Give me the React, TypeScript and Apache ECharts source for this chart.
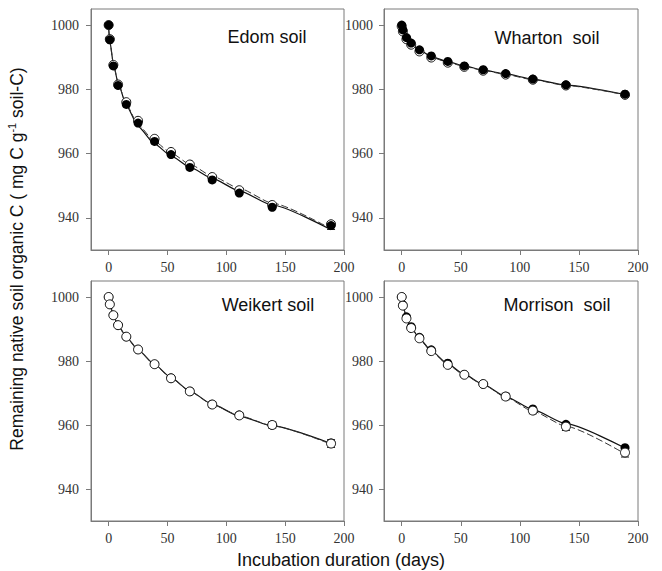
import React, { useEffect, useRef } from "react";
import * as echarts from "echarts";

// Sampling days (incubation duration)
const days = [0, 1, 4, 8, 15, 25, 39, 53, 69, 88, 111, 139, 189];

// Panel names
const panelNames = ["Edom soil", "Wharton  soil", "Weikert soil", "Morrison  soil"];

// Edom
const edomFilled = [1000, 995.4, 987.3, 981.2, 975.3, 969.5, 963.8, 959.7, 955.7, 951.8, 947.7, 943.3, 937.6];
const edomOpen = [1000, 995.6, 987.6, 981.5, 976.0, 970.2, 964.6, 960.5, 956.6, 952.7, 948.6, 944.0, 938.0];
const edomFitSolid = [999, 995.0, 988.0, 982.0, 975.0, 968.5, 963.0, 959.3, 955.8, 952.3, 948.4, 944.0, 936.3];
const edomFitDashed = [999, 995.0, 988.0, 982.0, 975.3, 969.0, 963.8, 960.2, 956.7, 953.0, 949.2, 944.6, 936.6];

// Wharton
const whartonFilled = [1000, 998.5, 996.1, 994.4, 992.3, 990.4, 988.7, 987.3, 986.1, 984.9, 983.2, 981.4, 978.5];
const whartonOpen = [999.6, 998.0, 995.6, 993.9, 991.8, 989.9, 988.3, 987.0, 985.8, 984.6, 983.0, 981.2, 978.3];
const whartonFitSolid = [999.8, 998.3, 996.0, 994.3, 992.2, 990.2, 988.6, 987.3, 986.0, 984.8, 983.2, 981.3, 978.4];
const whartonFitDashed = [999.8, 998.2, 995.8, 994.0, 991.9, 990.0, 988.4, 987.1, 985.9, 984.6, 983.0, 981.2, 978.3];

// Weikert
const weikertFilled = [1000, 997.7, 994.3, 991.2, 987.6, 983.6, 979.0, 974.7, 970.5, 966.5, 963.1, 960.0, 954.4];
const weikertOpen = [1000, 997.7, 994.3, 991.2, 987.6, 983.6, 979.0, 974.6, 970.5, 966.4, 963.0, 960.0, 954.2];
const weikertFitSolid = [999.6, 997.8, 994.3, 991.2, 987.5, 983.5, 978.9, 974.8, 970.6, 966.5, 962.8, 959.7, 954.2];
const weikertFitDashed = [999.6, 997.7, 994.2, 991.1, 987.4, 983.4, 978.8, 974.7, 970.5, 966.4, 962.9, 959.8, 954.0];

// Morrison
const morrisonFilled = [1000, 997.5, 993.8, 990.7, 987.4, 983.5, 979.3, 975.8, 972.8, 969.0, 965.0, 960.2, 952.9];
const morrisonOpen = [1000, 997.3, 993.3, 990.3, 987.1, 983.1, 978.8, 975.7, 972.8, 968.9, 964.5, 959.5, 951.4];
const morrisonFitSolid = [999.3, 997.3, 993.6, 990.5, 987.0, 983.2, 979.1, 975.8, 972.7, 968.9, 964.8, 960.4, 952.8];
const morrisonFitDashed = [999.3, 997.3, 993.5, 990.4, 986.8, 983.0, 978.8, 975.6, 972.6, 968.7, 964.3, 959.6, 951.0];

// Error bars: [day, value, half-width]
const edomErr = [[189, 937.6, 1.2]];
const whartonErr: number[][] = [];
const weikertErr = [[53, 974.6, 0.8], [69, 970.5, 0.8], [88, 966.4, 0.9], [111, 963.0, 0.8], [139, 960.0, 1.0], [189, 954.2, 1.2]];
const morrisonErr = [[88, 968.9, 1.0], [111, 964.5, 1.0], [139, 959.5, 1.2], [189, 951.4, 1.4]];

const xTicks = [0, 50, 100, 150, 200];
const yTicks = [940, 960, 980, 1000];

const panels = [
  { filled: edomFilled, open: edomOpen, solid: edomFitSolid, dashed: edomFitDashed, err: edomErr, openOnTop: false },
  { filled: whartonFilled, open: whartonOpen, solid: whartonFitSolid, dashed: whartonFitDashed, err: whartonErr, openOnTop: false },
  { filled: weikertFilled, open: weikertOpen, solid: weikertFitSolid, dashed: weikertFitDashed, err: weikertErr, openOnTop: true },
  { filled: morrisonFilled, open: morrisonOpen, solid: morrisonFitSolid, dashed: morrisonFitDashed, err: morrisonErr, openOnTop: true },
];

const grids = [
  { left: 91, top: 9, width: 253, height: 241 },
  { left: 384, top: 9, width: 254, height: 241 },
  { left: 91, top: 281, width: 253, height: 240 },
  { left: 384, top: 281, width: 254, height: 240 },
];

const titlePos = [
  [267, 37],
  [547, 38],
  [268, 305],
  [557, 305],
];

const AXIS_COLOR = "#7a7a7a";
const LABEL_FONT = "'Liberation Serif', 'Times New Roman', serif";

export default function App() {
  const ref = useRef<HTMLDivElement>(null);

  useEffect(() => {
    if (!ref.current) return;
    const chart = echarts.init(ref.current, undefined, { renderer: "svg" });

    const xAxis = grids.map((_, i) => ({
      type: "value",
      gridIndex: i,
      min: -15,
      max: 200,
      splitLine: { show: false },
      axisLine: { show: true, onZero: false, lineStyle: { color: AXIS_COLOR, width: 1 } },
      axisTick: { show: true, inside: false, length: 5, customValues: xTicks, lineStyle: { color: AXIS_COLOR } },
      axisLabel: {
        customValues: xTicks,
        margin: 10,
        fontFamily: LABEL_FONT,
        fontSize: 14,
        color: "#333",
        formatter: (v: number) => String(v),
      },
    }));
    const yAxis = grids.map((_, i) => ({
      type: "value",
      gridIndex: i,
      min: 930,
      max: 1005,
      splitLine: { show: false },
      axisLine: { show: true, onZero: false, lineStyle: { color: AXIS_COLOR, width: 1 } },
      axisTick: { show: true, inside: false, length: 5, customValues: yTicks, lineStyle: { color: AXIS_COLOR } },
      axisLabel: {
        customValues: yTicks,
        margin: i % 2 === 0 ? 12 : 11,
        fontFamily: LABEL_FONT,
        fontSize: 14,
        color: "#333",
        formatter: (v: number) => String(v),
      },
    }));

    const series: any[] = [];
    panels.forEach((p, i) => {
      series.push({
        type: "line",
        xAxisIndex: i,
        yAxisIndex: i,
        data: days.map((d, j) => [d, p.solid[j]]),
        symbol: "none",
        smooth: 0.2,
        smoothMonotone: "x",
        lineStyle: { color: "#111", width: 1.2 },
        z: 2,
      });
      series.push({
        type: "line",
        xAxisIndex: i,
        yAxisIndex: i,
        data: days.map((d, j) => [d, p.dashed[j]]),
        symbol: "none",
        smooth: 0.2,
        smoothMonotone: "x",
        lineStyle: { color: "#333", width: 1, type: [7, 3] },
        z: 2,
      });
      series.push({
        type: "custom",
        xAxisIndex: i,
        yAxisIndex: i,
        data: p.err.map((e) => [e[0], e[1] - e[2], e[1] + e[2]]),
        encode: { x: 0, y: [1, 2] },
        z: 3,
        renderItem: (params: any, api: any) => {
          const x = api.value(0);
          const lo = api.coord([x, api.value(1)]);
          const hi = api.coord([x, api.value(2)]);
          const w = 4;
          const st = { stroke: "#111", lineWidth: 1 };
          return {
            type: "group",
            children: [
              { type: "line", shape: { x1: lo[0], y1: lo[1], x2: hi[0], y2: hi[1] }, style: st },
              { type: "line", shape: { x1: lo[0] - w, y1: lo[1], x2: lo[0] + w, y2: lo[1] }, style: st },
              { type: "line", shape: { x1: hi[0] - w, y1: hi[1], x2: hi[0] + w, y2: hi[1] }, style: st },
            ],
          };
        },
      });
      series.push({
        type: "scatter",
        xAxisIndex: i,
        yAxisIndex: i,
        data: days.map((d, j) => [d, p.open[j]]),
        symbol: "circle",
        symbolSize: 9,
        itemStyle: { color: "#ffffff", borderColor: "#111", borderWidth: 1, opacity: 1 },
        z: p.openOnTop ? 5 : 4,
      });
      series.push({
        type: "scatter",
        xAxisIndex: i,
        yAxisIndex: i,
        data: days.map((d, j) => [d, p.filled[j]]),
        symbol: "circle",
        symbolSize: 9,
        itemStyle: { color: "#000", opacity: 1 },
        z: p.openOnTop ? 4 : 5,
      });
    });

    const graphic: any[] = panelNames.map((name, i) => ({
      type: "text",
      x: titlePos[i][0],
      y: titlePos[i][1],
      style: {
        text: name,
        fontFamily: "Liberation Sans",
        fontSize: 18,
        fill: "#111",
        align: "center",
        verticalAlign: "middle",
      },
      z: 10,
    }));
    graphic.push({
      type: "text",
      x: 341,
      y: 560,
      style: {
        text: "Incubation duration (days)",
        fontFamily: "Liberation Sans",
        fontSize: 18,
        fill: "#111",
        align: "center",
        verticalAlign: "middle",
      },
    });
    graphic.push({
      type: "text",
      x: 17,
      y: 259,
      rotation: Math.PI / 2,
      style: {
        text: "Remaining native soil organic C ( mg C g{sup|-1} soil-C)",
        fontFamily: "Liberation Sans",
        fontSize: 17.5,
        fill: "#111",
        align: "center",
        verticalAlign: "middle",
        lineHeight: 22,
        rich: {
          sup: { fontFamily: "Liberation Sans", fontSize: 11, fill: "#111", verticalAlign: "top", lineHeight: 22 },
        },
      },
    });

    chart.setOption({
      animation: false,
      backgroundColor: "#fff",
      grid: grids.map((g) => ({ ...g, show: true, borderColor: AXIS_COLOR, borderWidth: 1, backgroundColor: "transparent" })),
      xAxis,
      yAxis,
      series,
      graphic,
    });

    return () => chart.dispose();
  }, []);

  return <div ref={ref} style={{ position: "fixed", left: 0, top: 0, width: 662, height: 571 }} />;
}
